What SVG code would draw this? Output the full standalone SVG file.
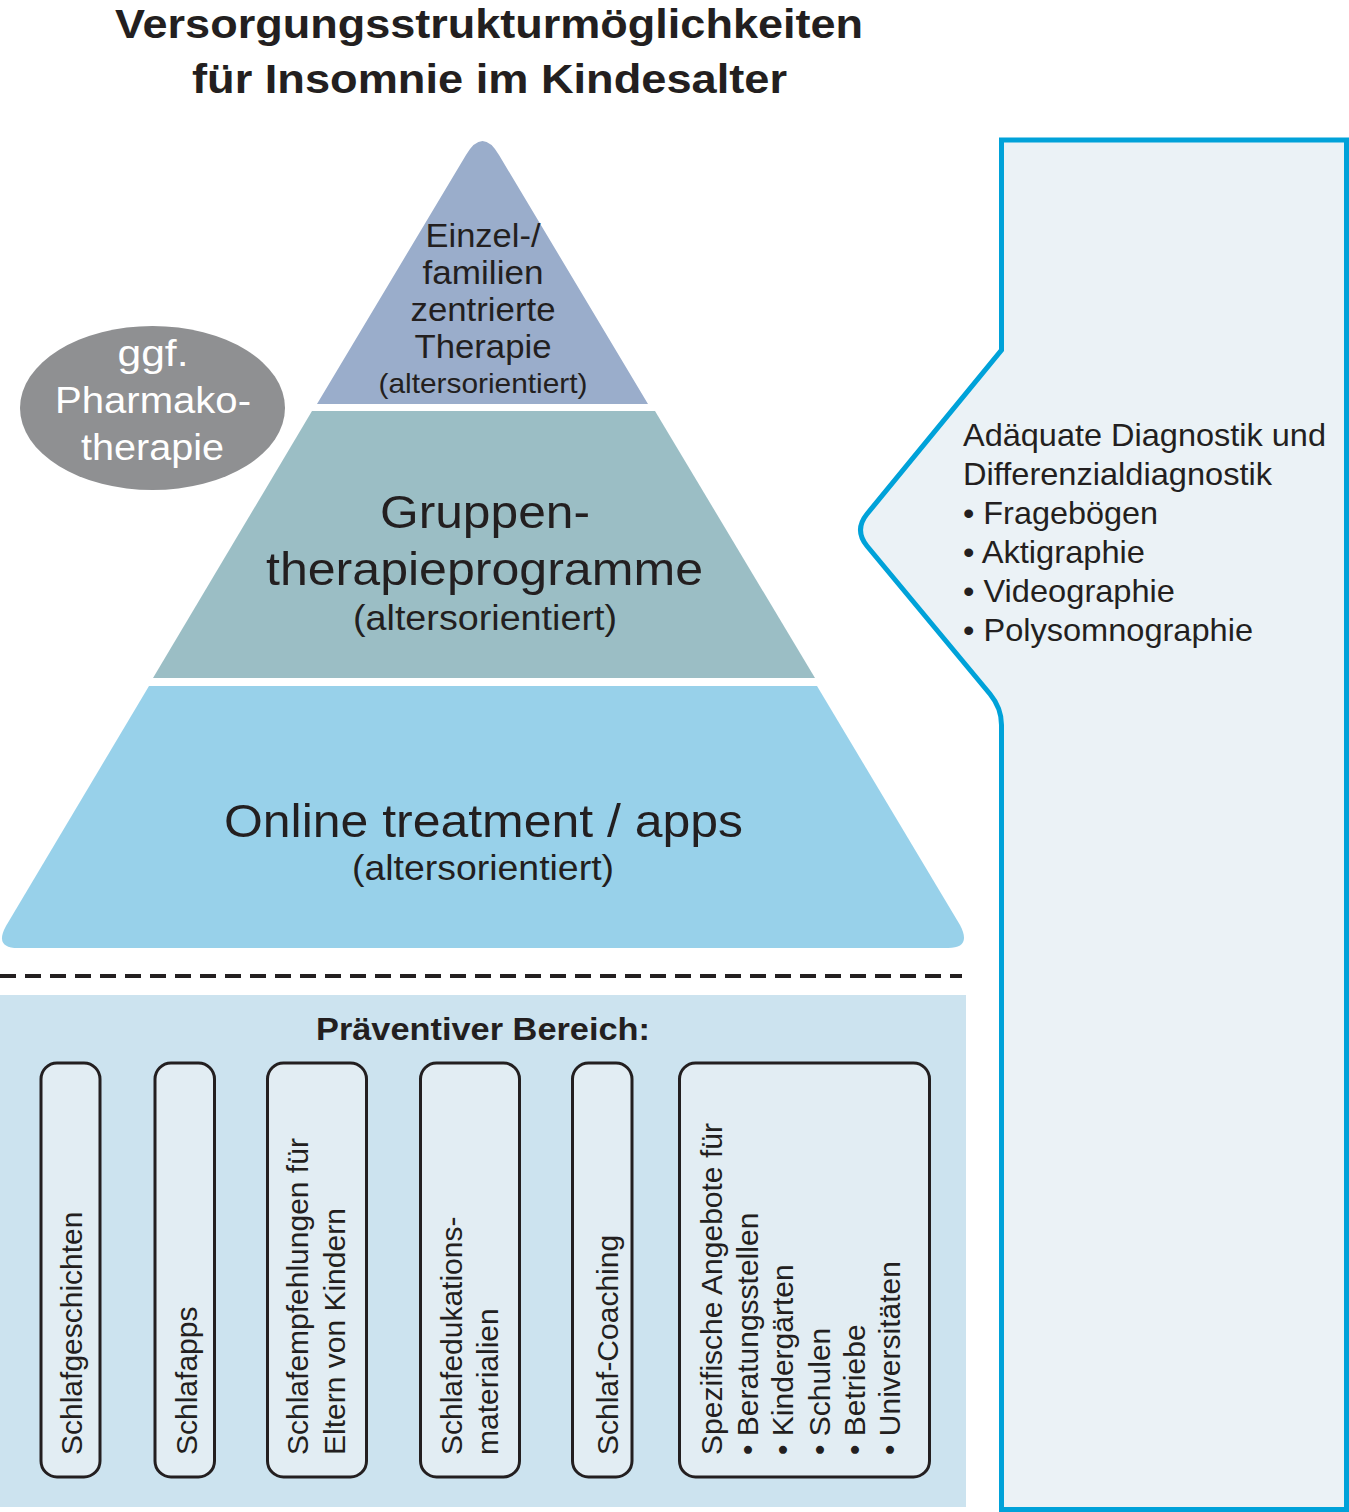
<svg xmlns="http://www.w3.org/2000/svg" width="1349" height="1512" viewBox="0 0 1349 1512">
<style>
text{font-family:"Liberation Sans",Arial,Helvetica,sans-serif;fill:#231f20}
.title{font-weight:bold;font-size:41.5px;text-anchor:middle}
.c{text-anchor:middle}
.w{fill:#ffffff}
.box{fill:#e2edf3;stroke:#231f20;stroke-width:3}
.vt{font-size:30px}
</style>
<rect width="1349" height="1512" fill="#ffffff"/>
<g id="title">
<text class="title" x="489" y="38" textLength="748" lengthAdjust="spacingAndGlyphs">Versorgungsstrukturmöglichkeiten</text>
<text class="title" x="489.5" y="93" textLength="595" lengthAdjust="spacingAndGlyphs">für Insomnie im Kindesalter</text>
</g>
<g id="diagnostik">
<path d="M1001.5 140 H1346.5 V1509.5 H1001.5 V725 Q1001.5 708 990 694 L867 546 Q854 530 867 514 L1001.5 350 Z" fill="#ebf2f6" stroke="#00a2d9" stroke-width="5" stroke-linejoin="miter"/>
<text x="963" y="446" font-size="30.5" textLength="363" lengthAdjust="spacingAndGlyphs">Adäquate Diagnostik und</text>
<text x="963" y="485" font-size="30.5" textLength="309" lengthAdjust="spacingAndGlyphs">Differenzialdiagnostik</text>
<text x="963" y="524" font-size="30.5" textLength="195" lengthAdjust="spacingAndGlyphs">• Fragebögen</text>
<text x="963" y="563" font-size="30.5" textLength="182" lengthAdjust="spacingAndGlyphs">• Aktigraphie</text>
<text x="963" y="602" font-size="30.5" textLength="212" lengthAdjust="spacingAndGlyphs">• Videographie</text>
<text x="963" y="641" font-size="30.5" textLength="290" lengthAdjust="spacingAndGlyphs">• Polysomnographie</text>
</g>
<g id="einzeltherapie">
<path d="M317 404 L466 155 Q482.5 127 499 155 L648 404 Z" fill="#9aadcb"/>
<text class="c" x="483" y="247" font-size="32.5" textLength="115" lengthAdjust="spacingAndGlyphs">Einzel-/</text>
<text class="c" x="483" y="284" font-size="32.5" textLength="121" lengthAdjust="spacingAndGlyphs">familien</text>
<text class="c" x="483" y="321" font-size="32.5" textLength="145" lengthAdjust="spacingAndGlyphs">zentrierte</text>
<text class="c" x="483" y="358" font-size="32.5" textLength="137" lengthAdjust="spacingAndGlyphs">Therapie</text>
<text class="c" x="483" y="393" font-size="28" textLength="209" lengthAdjust="spacingAndGlyphs">(altersorientiert)</text>
</g>
<g id="gruppentherapie">
<path d="M312 411 L655 411 L815 678 L153 678 Z" fill="#9bbec5"/>
<text class="c" x="485" y="528" font-size="47" textLength="210" lengthAdjust="spacingAndGlyphs">Gruppen-</text>
<text class="c" x="484.5" y="585" font-size="47" textLength="437" lengthAdjust="spacingAndGlyphs">therapieprogramme</text>
<text class="c" x="485" y="630" font-size="35" textLength="264" lengthAdjust="spacingAndGlyphs">(altersorientiert)</text>
</g>
<g id="online">
<path d="M149 686 L817 686 L960 925 Q972 948 948 948 L18 948 Q-6 948 6 926 Z" fill="#98d1ea"/>
<text class="c" x="483.5" y="837" font-size="47" textLength="519" lengthAdjust="spacingAndGlyphs">Online treatment / apps</text>
<text class="c" x="483" y="880" font-size="35" textLength="262" lengthAdjust="spacingAndGlyphs">(altersorientiert)</text>
</g>
<g id="pharmako">
<ellipse cx="152.5" cy="408" rx="132.5" ry="82" fill="#8f9092"/>
<text class="c w" x="153" y="366" font-size="37.5" textLength="71" lengthAdjust="spacingAndGlyphs">ggf.</text>
<text class="c w" x="153" y="413" font-size="37.5" textLength="196" lengthAdjust="spacingAndGlyphs">Pharmako-</text>
<text class="c w" x="152.5" y="460" font-size="37.5" textLength="143" lengthAdjust="spacingAndGlyphs">therapie</text>
</g>
<g id="connectors">
<line x1="0" y1="976" x2="962" y2="976" stroke="#231f20" stroke-width="4" stroke-dasharray="16 9"/>
</g>
<g id="praeventiv">
<rect x="0" y="995" width="966" height="512" fill="#cce3ef"/>
<text x="483" y="1040" class="c" font-weight="bold" font-size="32" textLength="334" lengthAdjust="spacingAndGlyphs">Präventiver Bereich:</text>
</g>
<g id="schlafgeschichten">
<rect class="box" x="41" y="1063" width="59" height="414" rx="16"/>
<text class="vt" transform="translate(82,1455) rotate(-90)">Schlafgeschichten</text>
</g>
<g id="schlafapps">
<rect class="box" x="155" y="1063" width="59.5" height="414" rx="16"/>
<text class="vt" transform="translate(197,1455) rotate(-90)">Schlafapps</text>
</g>
<g id="schlafempfehlungen">
<rect class="box" x="267.5" y="1063" width="99" height="414" rx="16"/>
<text class="vt" transform="translate(308,1455) rotate(-90)">Schlafempfehlungen für</text>
<text class="vt" transform="translate(345,1455) rotate(-90)">Eltern von Kindern</text>
</g>
<g id="schlafedukation">
<rect class="box" x="420.5" y="1063" width="99" height="414" rx="16"/>
<text class="vt" transform="translate(462,1455) rotate(-90)">Schlafedukations-</text>
<text class="vt" transform="translate(498,1455) rotate(-90)">materialien</text>
</g>
<g id="coaching">
<rect class="box" x="572.5" y="1063" width="59.5" height="414" rx="16"/>
<text class="vt" transform="translate(618,1455) rotate(-90)">Schlaf-Coaching</text>
</g>
<g id="angebote">
<rect class="box" x="679.5" y="1063" width="250" height="414" rx="16"/>
<text class="vt" transform="translate(722,1455) rotate(-90)">Spezifische Angebote für</text>
<text class="vt" transform="translate(758,1455) rotate(-90)">• Beratungsstellen</text>
<text class="vt" transform="translate(793,1455) rotate(-90)">• Kindergärten</text>
<text class="vt" transform="translate(830,1455) rotate(-90)">• Schulen</text>
<text class="vt" transform="translate(865,1455) rotate(-90)">• Betriebe</text>
<text class="vt" transform="translate(900,1455) rotate(-90)">• Universitäten</text>
</g>
</svg>
